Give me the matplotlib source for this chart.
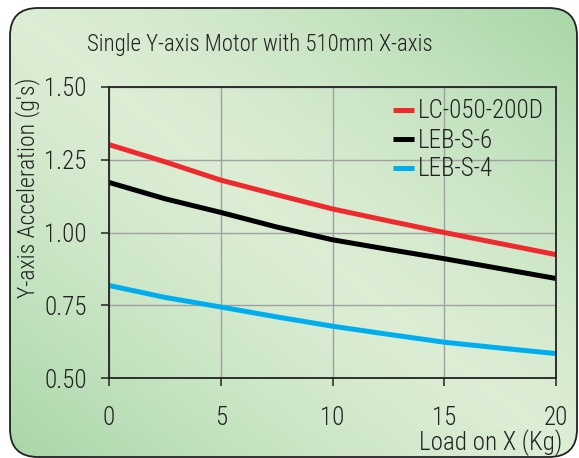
import numpy as np
import matplotlib
matplotlib.use("Agg")
import matplotlib.pyplot as plt
from matplotlib.patches import FancyBboxPatch

plt.rcParams['font.family'] = ['Roboto Condensed', 'DejaVu Sans']
plt.rcParams['font.weight'] = 'light'

load = [0, 2.5, 5, 7.5, 10, 12.5, 15, 17.5, 20]
lc_050 = [1.302, 1.243, 1.180, 1.130, 1.081, 1.040, 1.000, 0.962, 0.924]
leb_s6 = [1.172, 1.116, 1.069, 1.019, 0.975, 0.942, 0.910, 0.876, 0.842]
leb_s4 = [0.818, 0.777, 0.744, 0.710, 0.678, 0.650, 0.623, 0.603, 0.584]
names = ["LC-050-200D", "LEB-S-6", "LEB-S-4"]
colors = ["#ee2a2e", "#000000", "#00aeef"]
yticks = [0.50, 0.75, 1.00, 1.25, 1.50]
xticks = [0, 5, 10, 15, 20]

fig = plt.figure(figsize=(5.79, 4.58), dpi=100)

# gradient background inside a rounded box
bg = fig.add_axes([0, 0, 1, 1])
bg.set_xlim(0, 579)
bg.set_ylim(0, 458)
bg.axis('off')
u, v = np.meshgrid(np.linspace(0, 1, 300), np.linspace(0, 1, 300))
g = np.abs(u + v - 1) ** 1.4
light = np.array([0.86, 0.93, 0.83])
dark = np.array([0.66, 0.84, 0.66])
img = light[None, None, :] * (1 - g[..., None]) + dark[None, None, :] * g[..., None]
box = FancyBboxPatch((10, 1), 567, 449, boxstyle="round,pad=0,rounding_size=28",
                     facecolor='none', edgecolor='#222222', linewidth=1.3)
bg.add_patch(box)
im = bg.imshow(img, extent=[10, 577, 1, 450], origin='lower', aspect='auto')
im.set_clip_path(box)

ax = fig.add_axes([109 / 579, 1 - 378 / 458, (556 - 109) / 579, (378 - 87) / 458])
ax.patch.set_alpha(0)
for name, ys, c in zip(names, [lc_050, leb_s6, leb_s4], colors):
    ax.plot(load, ys, color=c, linewidth=3.6, label=name, solid_capstyle='butt')

ax.set_xlim(0, 20)
ax.set_ylim(0.5, 1.5)
ax.set_xticks(xticks)
ax.set_yticks(yticks)
ax.set_yticklabels(["%.2f" % t for t in yticks])
ax.grid(True, color='#a0a0a0', linewidth=1.0)
ax.set_axisbelow(True)
ax.tick_params(direction='out', length=6, width=1.1, labelsize=18, color='#222222',
               labelcolor='#222222')
ax.tick_params(axis='y', pad=10)
ax.tick_params(axis='x', pad=14)
for s in ax.spines.values():
    s.set_linewidth(1.3)
    s.set_color('#222222')

leg = ax.legend(loc='upper right', frameon=False, fontsize=18, handlelength=0.85,
                handletextpad=0.15, labelspacing=0.2, borderaxespad=0.1)
for t in leg.get_texts():
    t.set_color('#222222')

fig.text(260 / 579, 1 - 45 / 458, "Single Y-axis Motor with 510mm X-axis",
         ha='center', va='center', fontsize=16.5, color='#222222')
fig.text(28 / 579, 1 - 188 / 458, "Y-axis Acceleration (g's)", rotation=90,
         ha='center', va='center', fontsize=17, color='#222222')
fig.text(562 / 579, 1 - 443 / 458, "Load on X (Kg)", ha='right', va='center',
         fontsize=18, color='#222222')

fig.savefig("out.png", dpi=100)
